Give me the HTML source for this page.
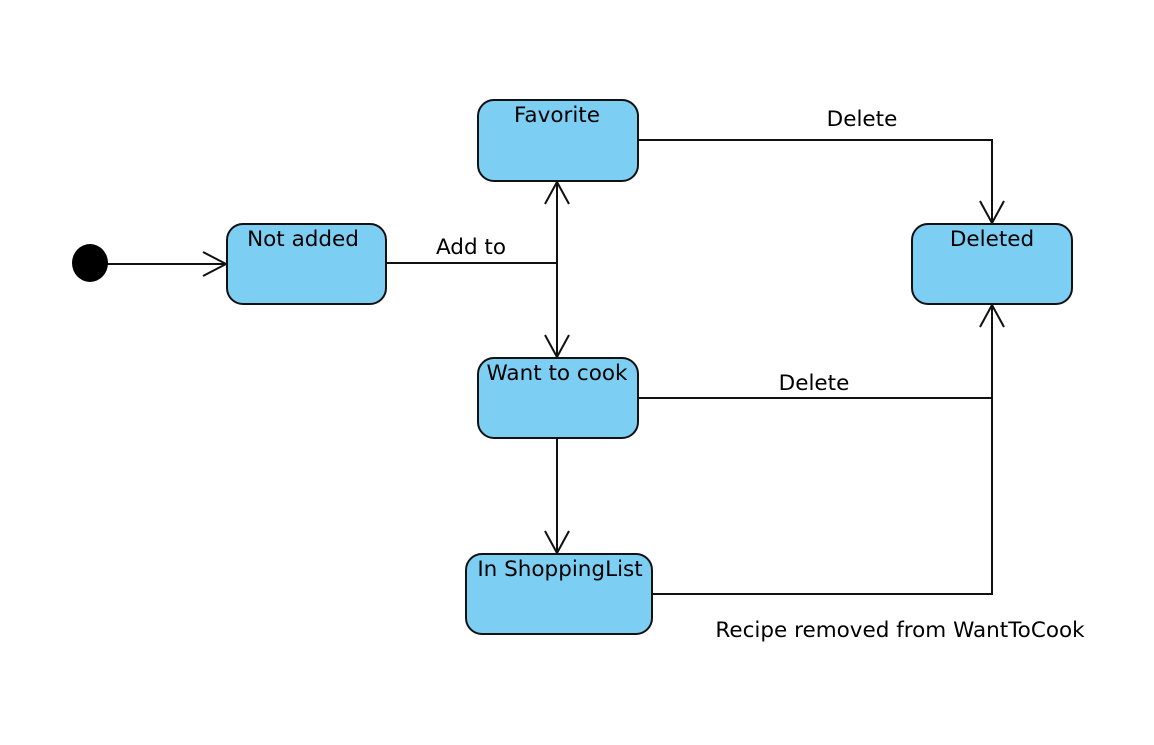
<!DOCTYPE html>
<html><head><meta charset="utf-8"><style>body{margin:0;background:#fff}</style></head><body>
<svg width="1154" height="740" xmlns="http://www.w3.org/2000/svg" font-family="'DejaVu Sans', 'Liberation Sans', sans-serif" font-size="21.5">
<g stroke="#111" stroke-width="2" fill="none">
<line x1="103" y1="264" x2="226" y2="264"/>
<polyline points="203,252 226,264 203,276"/>
<line x1="386" y1="263" x2="557" y2="263"/>
<line x1="557" y1="182" x2="557" y2="357"/>
<polyline points="545,204 557,182 569,204"/>
<polyline points="545,335 557,357 569,335"/>
<polyline points="638,140 992,140 992,223"/>
<polyline points="980,201 992,223 1004,201"/>
<line x1="638" y1="398" x2="992" y2="398"/>
<polyline points="652,594 992,594 992,305"/>
<polyline points="980,327 992,305 1004,327"/>
<line x1="557" y1="438" x2="557" y2="553"/>
<polyline points="545,531 557,553 569,531"/>
</g>
<ellipse cx="90" cy="263" rx="18" ry="19" fill="#000"/>
<g fill="#7ccff3" stroke="#111" stroke-width="2">
<rect x="227" y="224" width="159" height="80" rx="16"/>
<rect x="478" y="100" width="160" height="81" rx="16"/>
<rect x="478" y="358" width="160" height="80" rx="16"/>
<rect x="912" y="224" width="160" height="80" rx="16"/>
<rect x="466" y="554" width="186" height="80" rx="16"/>
</g>
<g fill="#000" text-anchor="middle">
<text x="303" y="246">Not added</text>
<text x="557" y="122">Favorite</text>
<text x="557" y="380">Want to cook</text>
<text x="992" y="246">Deleted</text>
<text x="560" y="576">In ShoppingList</text>
<text x="862" y="126">Delete</text>
<text x="471" y="254">Add to</text>
<text x="814" y="390">Delete</text>
<text x="900" y="637">Recipe removed from WantToCook</text>
</g>
</svg>
</body></html>
